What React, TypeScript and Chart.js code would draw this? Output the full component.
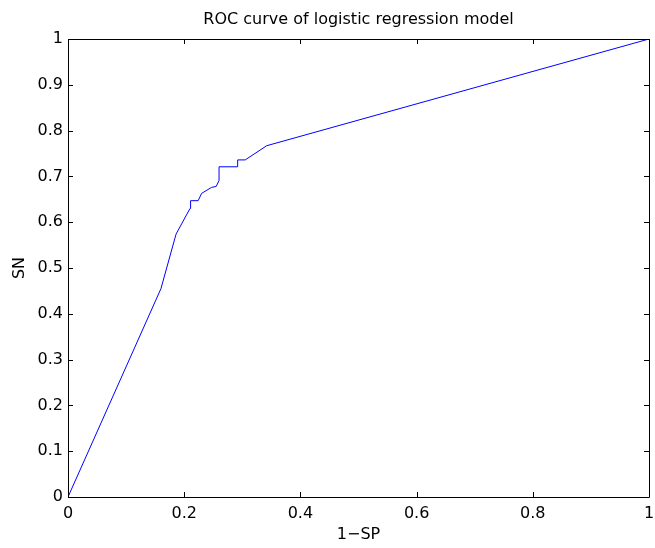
import React, { useEffect, useRef } from "react";
import { Chart, registerables } from "chart.js";

Chart.register(...registerables);

const fpr = [0, 0.16, 0.186, 0.21, 0.211, 0.224, 0.23, 0.247, 0.255, 0.26, 0.26, 0.291, 0.292, 0.305, 0.342, 1];
const tpr = [0, 0.455, 0.574, 0.63, 0.647, 0.647, 0.663, 0.676, 0.678, 0.691, 0.721, 0.721, 0.736, 0.736, 0.767, 1];
const xTicks = [0, 0.2, 0.4, 0.6, 0.8, 1];
const yTicks = [0, 0.1, 0.2, 0.3, 0.4, 0.5, 0.6, 0.7, 0.8, 0.9, 1];
const chartTitle = "ROC curve of logistic regression model";
const xLabel = "1\u2212SP";
const yLabel = "SN";

const FONT = "'DejaVu Sans', 'Liberation Sans', Arial, sans-serif";

const boxPlugin = {
  id: "matlabBox",
  afterDraw(chart: any) {
    const { ctx, chartArea } = chart;
    const { left, right, top, bottom } = chartArea;
    const xs = chart.scales.x;
    const ys = chart.scales.y;
    const len = 5;
    ctx.save();
    ctx.strokeStyle = "#000";
    ctx.lineWidth = 1;
    ctx.beginPath();
    ctx.rect(Math.round(left) + 0.5, Math.round(top) + 0.5, Math.round(right - left), Math.round(bottom - top));
    ctx.stroke();
    ctx.beginPath();
    xTicks.forEach((v) => {
      const px = Math.round(xs.getPixelForValue(v)) + 0.5;
      ctx.moveTo(px, bottom);
      ctx.lineTo(px, bottom - len);
      ctx.moveTo(px, top);
      ctx.lineTo(px, top + len);
    });
    yTicks.forEach((v) => {
      const py = Math.round(ys.getPixelForValue(v)) + 0.5;
      ctx.moveTo(left, py);
      ctx.lineTo(left + len, py);
      ctx.moveTo(right, py);
      ctx.lineTo(right - len, py);
    });
    ctx.stroke();
    // title centred over the plot area
    ctx.fillStyle = "#000";
    ctx.font = "16px " + FONT;
    ctx.textAlign = "center";
    ctx.textBaseline = "middle";
    ctx.fillText(chartTitle, (left + right) / 2, top / 2);
    ctx.restore();
  },
};

export default function App() {
  const ref = useRef<HTMLCanvasElement | null>(null);
  useEffect(() => {
    if (!ref.current) return;
    const points = fpr.map((x, i) => ({ x, y: tpr[i] }));
    const fmt = (v: any) => String(Number(Number(v).toFixed(1)));
    const chart = new Chart(ref.current, {
      type: "line",
      data: {
        datasets: [
          {
            data: points,
            borderColor: "#0000ff",
            borderWidth: 1,
            pointRadius: 0,
            tension: 0,
            fill: false,
          },
        ],
      },
      options: {
        responsive: false,
        animation: false,
        events: [],
        layout: { padding: { left: 0, right: 6, top: 39, bottom: 0 } },
        plugins: {
          legend: { display: false },
          tooltip: { enabled: false },
          title: { display: false },
        },
        scales: {
          x: {
            type: "linear",
            min: 0,
            max: 1,
            afterBuildTicks: (scale: any) => {
              scale.ticks = xTicks.map((v) => ({ value: v }));
            },
            afterFit: (scale: any) => {
              scale.height = 51;
              scale.paddingLeft = 0;
              scale.paddingRight = 0;
            },
            grid: { display: false, drawTicks: false },
            border: { display: false },
            ticks: {
              color: "#000",
              font: { family: FONT, size: 16 },
              padding: 7,
              maxRotation: 0,
              autoSkip: false,
              callback: fmt,
            },
            title: {
              display: true,
              text: xLabel,
              color: "#000",
              font: { family: FONT, size: 16 },
              padding: { top: 0, bottom: 4 },
            },
          },
          y: {
            type: "linear",
            min: 0,
            max: 1,
            afterBuildTicks: (scale: any) => {
              scale.ticks = yTicks.map((v) => ({ value: v }));
            },
            afterFit: (scale: any) => {
              scale.width = 68;
              scale.paddingTop = 0;
              scale.paddingBottom = 0;
            },
            grid: { display: false, drawTicks: false },
            border: { display: false },
            ticks: {
              color: "#000",
              font: { family: FONT, size: 16 },
              padding: 5,
              autoSkip: false,
              callback: fmt,
            },
            title: {
              display: true,
              text: yLabel,
              color: "#000",
              font: { family: FONT, size: 16 },
              padding: { top: 10, bottom: 0 },
            },
          },
        },
      },
      plugins: [boxPlugin],
    } as any);
    return () => chart.destroy();
  }, []);
  return (
    <div style={{ position: "fixed", left: 0, top: 0, width: 655, height: 548, background: "#fff" }}>
      <canvas ref={ref} width={655} height={548} style={{ display: "block" }} />
    </div>
  );
}
